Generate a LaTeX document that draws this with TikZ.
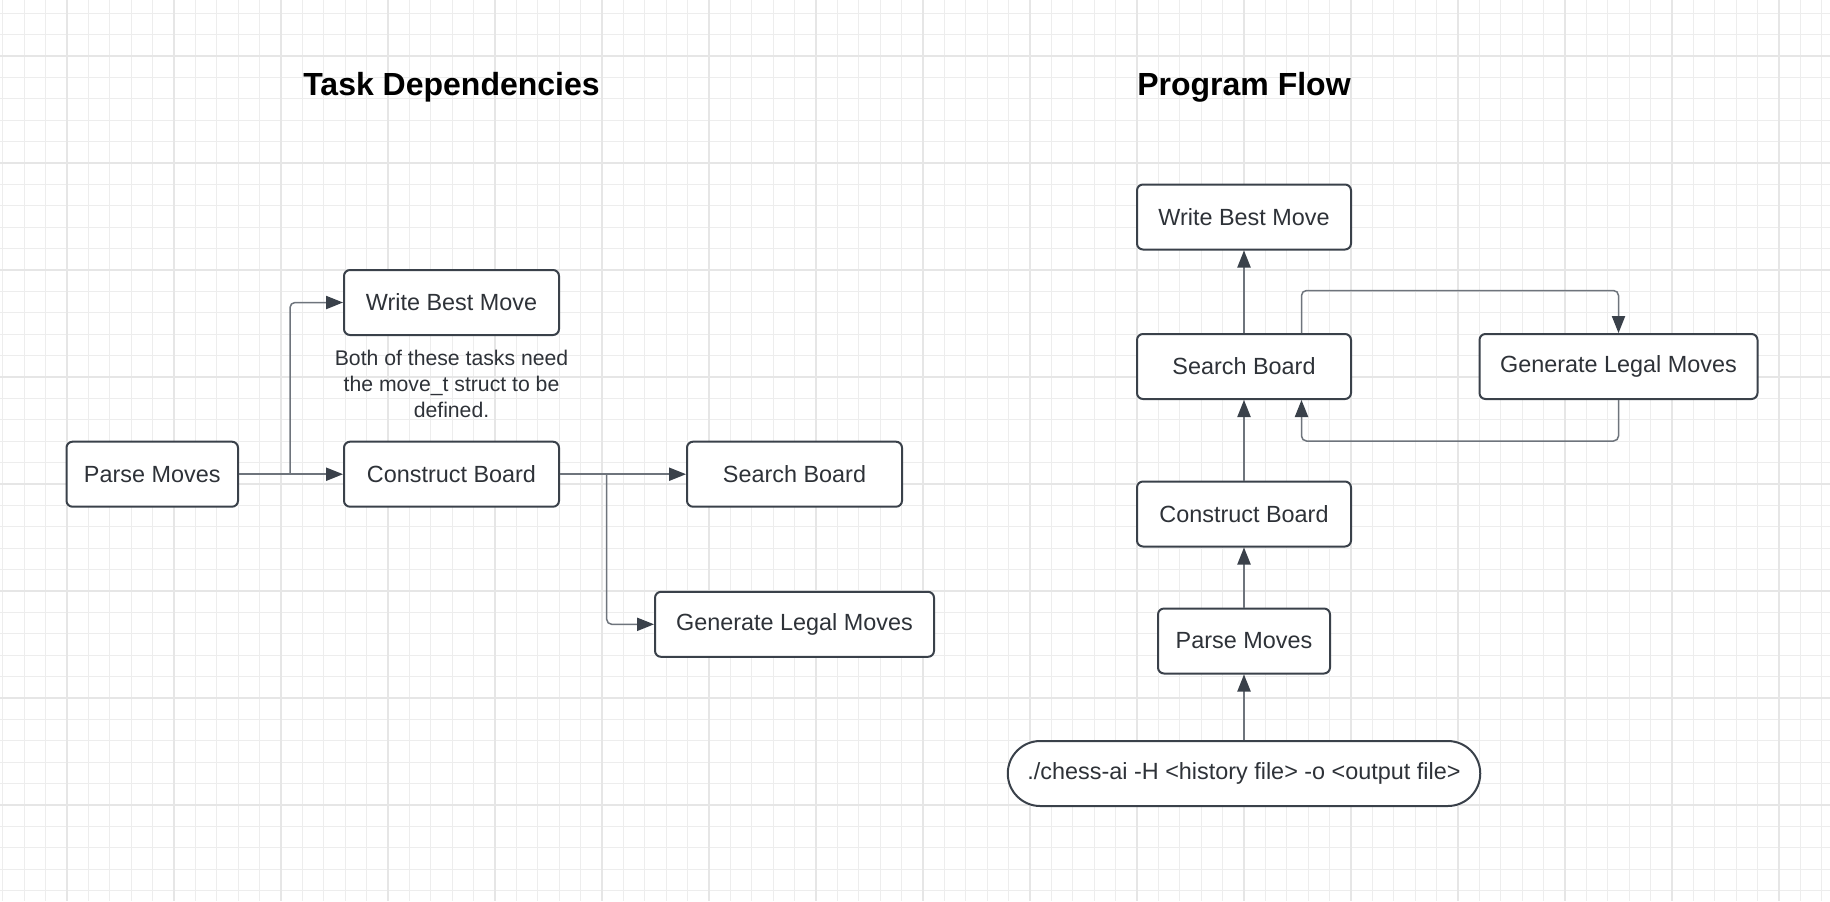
\documentclass[tikz,border=0pt]{standalone}
\usepackage{fontspec}
\setmainfont{Liberation Sans}
\usetikzlibrary{arrows.meta}
\definecolor{gridminor}{HTML}{EDEDED}
\definecolor{gridmajor}{HTML}{E6E6E6}
\definecolor{boxc}{HTML}{3A414A}
\definecolor{textc}{HTML}{2E3238}
\definecolor{linec}{HTML}{6E747C}
\tikzset{
  box/.style={draw=boxc, line width=1pt, rounded corners=3pt, fill=white,
    minimum height=32.5pt, inner sep=0pt, text=textc,
    font=\fontsize{11.7}{14}\selectfont},
  pill/.style={box, rounded corners=16.25pt},
  conn/.style={draw=linec, line width=0.75pt, rounded corners=2.5pt,
    -{Triangle[length=8.5pt,width=6.6pt,color=boxc]}},
  titlef/.style={font=\fontsize{16}{19}\selectfont\bfseries, text=black, anchor=base, inner sep=0pt},
  notef/.style={font=\fontsize{10.6}{12.9}\selectfont, text=textc, align=center, inner sep=0pt}
}
\begin{document}
\begin{tikzpicture}[x=0.5pt,y=-0.5pt]
\useasboundingbox (0,0) rectangle (1830,901);
\fill[white] (0,0) rectangle (1830,901);
% grid
\foreach \i in {0,...,85} { \draw[gridminor, line width=0.55pt] ({2.8+21.4*\i},0) -- ({2.8+21.4*\i},901); }
\foreach \j in {0,...,41} { \draw[gridminor, line width=0.55pt] (0,{13.2+21.4*\j}) -- (1830,{13.2+21.4*\j}); }
\foreach \i in {0,...,16} { \draw[gridmajor, line width=0.65pt] ({67+107*\i},0) -- ({67+107*\i},901); }
\foreach \j in {0,...,7} { \draw[gridmajor, line width=0.65pt] (0,{56+107*\j}) -- (1830,{56+107*\j}); }

% titles
\node[titlef] (t1) at (451.5,95.7) {Task Dependencies};
\node[titlef] (t2) at (1244,95.7) {Program Flow};

% left diagram
\node[box, minimum width=85.75pt] (lpm) at (152.25,474.2) {Parse Moves};
\node[box, minimum width=107.5pt] (lwb) at (451.5,302.5) {Write Best Move};
\node[box, minimum width=107.5pt] (lcb) at (451.5,474.2) {Construct Board};
\node[box, minimum width=107.5pt] (lsb) at (794.5,474.2) {Search Board};
\node[box, minimum width=139.5pt] (lgl) at (794.5,624.3) {Generate Legal Moves};
\node[notef] (note) at (451.5,384) {Both of these tasks need\\the move\_t struct to be\\defined.};

\coordinate (lb1) at (290,474.2);
\coordinate (lb2) at (606.7,474.2);
\draw[conn] (lpm.east) -- (lcb.west);
\draw[conn] (lb1) |- (lwb.west);
\draw[conn] (lcb.east) -- (lsb.west);
\draw[conn] (lb2) |- (lgl.west);

% right diagram
\node[box, minimum width=107pt] (rwb) at (1244,217) {Write Best Move};
\node[box, minimum width=107pt] (rsb) at (1244,366.5) {Search Board};
\node[box, minimum width=139pt] (rgl) at (1618.5,366.5) {Generate Legal Moves};
\node[box, minimum width=107pt] (rcb) at (1244,514) {Construct Board};
\node[box, minimum width=86pt] (rpm) at (1244,641) {Parse Moves};
\node[pill, minimum width=236.25pt] (rca) at (1244,773.5) {./chess-ai -H <history file> -o <output file>};

\coordinate (lt) at (1301.5,290.5);
\coordinate (lbt) at (1301.5,441);
\draw[conn] (rca.north) -- (rpm.south);
\draw[conn] (rpm.north) -- (rcb.south);
\draw[conn] (rcb.north) -- (rsb.south);
\draw[conn] (rsb.north) -- (rwb.south);
\draw[conn] (rsb.north -| lt) -- (lt) -| (rgl.north);
\draw[conn] (rgl.south) |- (lbt) -- (rsb.south -| lbt);
\end{tikzpicture}
\end{document}
